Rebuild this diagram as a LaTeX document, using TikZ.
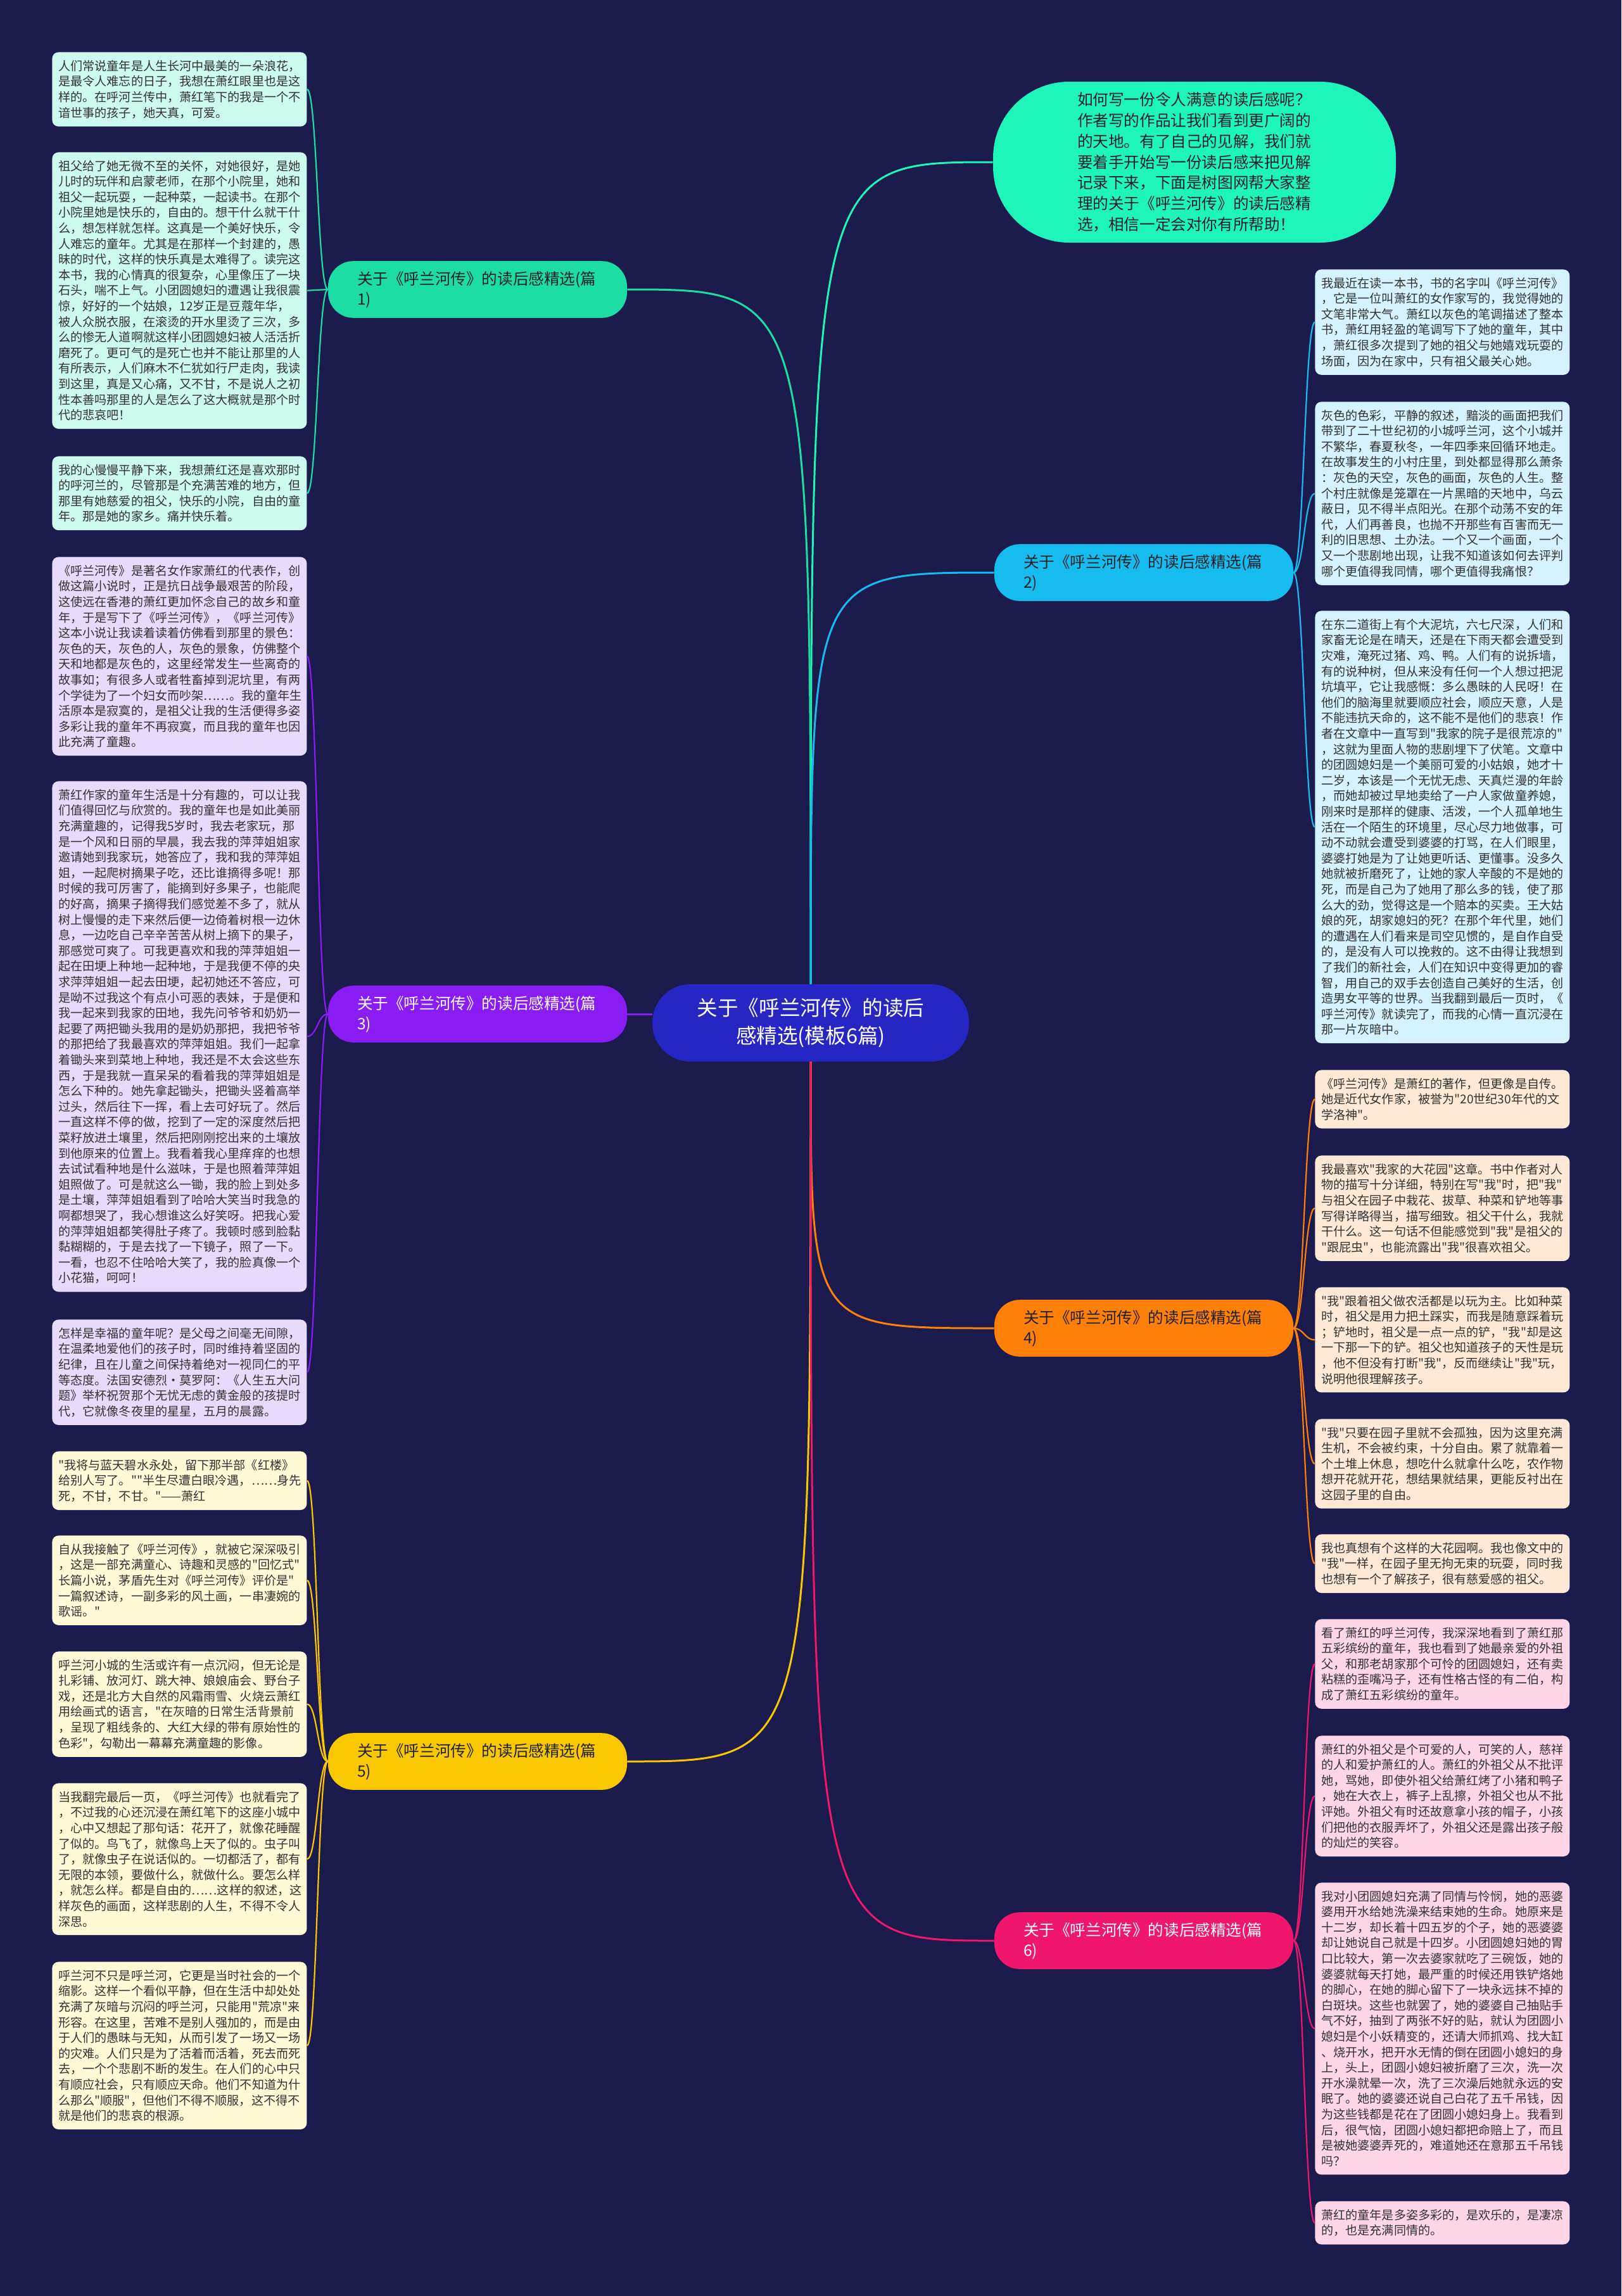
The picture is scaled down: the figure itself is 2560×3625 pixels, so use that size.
\documentclass[tikz,border=0pt]{standalone}
\usepackage{fontspec}
\setmainfont{Noto Sans CJK SC}
\newfontfamily\cjkfont{Noto Sans CJK SC}
\usepackage{tikz}
\definecolor{mmnavy}{RGB}{28,27,78}
\definecolor{mmroot}{RGB}{38,38,196}
\definecolor{mmaqua}{RGB}{30,245,185}
\definecolor{mmteal}{RGB}{28,222,164}
\definecolor{mmsky}{RGB}{22,188,240}
\definecolor{mmpurple}{RGB}{138,28,246}
\definecolor{mmorange}{RGB}{255,128,8}
\definecolor{mmyellow}{RGB}{250,200,0}
\definecolor{mmpink}{RGB}{240,22,110}
\definecolor{mmteal4}{RGB}{204,250,238}
\definecolor{mmsky4}{RGB}{212,242,255}
\definecolor{mmpurple4}{RGB}{232,218,252}
\definecolor{mmorange4}{RGB}{255,233,214}
\definecolor{mmyellow4}{RGB}{255,250,214}
\definecolor{mmpink4}{RGB}{255,214,232}
\definecolor{mmink}{RGB}{50,50,50}
\definecolor{mmdark}{RGB}{30,34,40}

\begin{document}
\begin{tikzpicture}[x=0.5pt,y=-0.5pt,
  rootnode/.style={fill=mmroot,rounded corners=30pt,minimum width=250pt,minimum height=61pt,
    align=center,text=white,font=\cjkfont\fontsize{16.3}{22}\selectfont},
  introbox/.style={fill=mmaqua,rounded corners=60pt,minimum width=318pt,minimum height=127pt,
    text width=185pt,align=left,text=mmdark,font=\cjkfont\fontsize{12.3}{16.4}\selectfont},
  branchnode/.style={rounded corners=20pt,text width=190pt,inner xsep=23pt,inner ysep=8pt,
    align=left,font=\cjkfont\fontsize{12.3}{16}\selectfont},
  leafbox/.style={rounded corners=5pt,anchor=north west,text width=191pt,inner xsep=5pt,
    inner ysep=6.3pt,align=left,text=mmink,font=\cjkfont\fontsize{9.55}{12.3}\selectfont},
  mainedge/.style={line width=1.5pt},
  leafedge/.style={line width=1.1pt}
]
  \useasboundingbox (0,0) rectangle (2560,3625);
  \fill[mmnavy] (0,0) rectangle (2560,3625);
  % Root
  \node[rootnode] (root) at (1280,1615) {关于《呼兰河传》的读后\\感精选(模板6篇)};
  % Intro
  \node[introbox] (intro) at (1886,256) {如何写一份令人满意的读后感呢？\\
作者写的作品让我们看到更广阔的\\
的天地。有了自己的见解，我们就\\
要着手开始写一份读后感来把见解\\
记录下来，下面是树图网帮大家整\\
理的关于《呼兰河传》的读后感精\\
选，相信一定会对你有所帮助！};
  % Branches
  \node[branchnode,fill=mmteal,text=mmdark] (b1) at (754,457) {关于《呼兰河传》的读后感精选(篇\\1)};
  \node[branchnode,fill=mmsky,text=mmdark] (b2) at (1806,904) {关于《呼兰河传》的读后感精选(篇\\2)};
  \node[branchnode,fill=mmpurple,text=white] (b3) at (754,1601) {关于《呼兰河传》的读后感精选(篇\\3)};
  \node[branchnode,fill=mmorange,text=mmdark] (b4) at (1806,2097) {关于《呼兰河传》的读后感精选(篇\\4)};
  \node[branchnode,fill=mmyellow,text=mmdark] (b5) at (754,2781) {关于《呼兰河传》的读后感精选(篇\\5)};
  \node[branchnode,fill=mmpink,text=white] (b6) at (1806,3064) {关于《呼兰河传》的读后感精选(篇\\6)};
  % Leaves - 1
  \node[leafbox,fill=mmteal4] (l1a) at (82,82) {人们常说童年是人生长河中最美的一朵浪花，\\
是最令人难忘的日子，我想在萧红眼里也是这\\
样的。在呼河兰传中，萧红笔下的我是一个不\\
谙世事的孩子，她天真，可爱。};
  \node[leafbox,fill=mmteal4] (l1b) at (82,240) {祖父给了她无微不至的关怀，对她很好，是她\\
儿时的玩伴和启蒙老师，在那个小院里，她和\\
祖父一起玩耍，一起种菜，一起读书。在那个\\
小院里她是快乐的，自由的。想干什么就干什\\
么，想怎样就怎样。这真是一个美好快乐，令\\
人难忘的童年。尤其是在那样一个封建的，愚\\
昧的时代，这样的快乐真是太难得了。读完这\\
本书，我的心情真的很复杂，心里像压了一块\\
石头，喘不上气。小团圆媳妇的遭遇让我很震\\
惊，好好的一个姑娘，12岁正是豆蔻年华，\\
被人众脱衣服，在滚烫的开水里烫了三次，多\\
么的惨无人道啊就这样小团圆媳妇被人活活折\\
磨死了。更可气的是死亡也并不能让那里的人\\
有所表示，人们麻木不仁犹如行尸走肉，我读\\
到这里，真是又心痛，又不甘，不是说人之初\\
性本善吗那里的人是怎么了这大概就是那个时\\
代的悲哀吧！};
  \node[leafbox,fill=mmteal4] (l1c) at (82,720) {我的心慢慢平静下来，我想萧红还是喜欢那时\\
的呼河兰的，尽管那是个充满苦难的地方，但\\
那里有她慈爱的祖父，快乐的小院，自由的童\\
年。那是她的家乡。痛并快乐着。};
  % Leaves - 3
  \node[leafbox,fill=mmpurple4] (l3a) at (82,879) {《呼兰河传》是著名女作家萧红的代表作，创\\
做这篇小说时，正是抗日战争最艰苦的阶段，\\
这使远在香港的萧红更加怀念自己的故乡和童\\
年，于是写下了《呼兰河传》，《呼兰河传》\\
这本小说让我读着读着仿佛看到那里的景色：\\
灰色的天，灰色的人，灰色的景象，仿佛整个\\
天和地都是灰色的，这里经常发生一些离奇的\\
故事如；有很多人或者牲畜掉到泥坑里，有两\\
个学徒为了一个妇女而吵架……。我的童年生\\
活原本是寂寞的，是祖父让我的生活便得多姿\\
多彩让我的童年不再寂寞，而且我的童年也因\\
此充满了童趣。};
  \node[leafbox,fill=mmpurple4] (l3b) at (82,1233) {萧红作家的童年生活是十分有趣的，可以让我\\
们值得回忆与欣赏的。我的童年也是如此美丽\\
充满童趣的，记得我5岁时，我去老家玩，那\\
是一个风和日丽的早晨，我去我的萍萍姐姐家\\
邀请她到我家玩，她答应了，我和我的萍萍姐\\
姐，一起爬树摘果子吃，还比谁摘得多呢！那\\
时候的我可厉害了，能摘到好多果子，也能爬\\
的好高，摘果子摘得我们感觉差不多了，就从\\
树上慢慢的走下来然后便一边倚着树根一边休\\
息，一边吃自己辛辛苦苦从树上摘下的果子，\\
那感觉可爽了。可我更喜欢和我的萍萍姐姐一\\
起在田埂上种地一起种地，于是我便不停的央\\
求萍萍姐姐一起去田埂，起初她还不答应，可\\
是呦不过我这个有点小可恶的表妹，于是便和\\
我一起来到我家的田地，我先问爷爷和奶奶一\\
起要了两把锄头我用的是奶奶那把，我把爷爷\\
的那把给了我最喜欢的萍萍姐姐。我们一起拿\\
着锄头来到菜地上种地，我还是不太会这些东\\
西，于是我就一直呆呆的看着我的萍萍姐姐是\\
怎么下种的。她先拿起锄头，把锄头竖着高举\\
过头，然后往下一挥，看上去可好玩了。然后\\
一直这样不停的做，挖到了一定的深度然后把\\
菜籽放进土壤里，然后把刚刚挖出来的土壤放\\
到他原来的位置上。我看着我心里痒痒的也想\\
去试试看种地是什么滋味，于是也照着萍萍姐\\
姐照做了。可是就这么一锄，我的脸上到处多\\
是土壤，萍萍姐姐看到了哈哈大笑当时我急的\\
啊都想哭了，我心想谁这么好笑呀。把我心爱\\
的萍萍姐姐都笑得肚子疼了。我顿时感到脸黏\\
黏糊糊的，于是去找了一下镜子，照了一下。\\
一看，也忍不住哈哈大笑了，我的脸真像一个\\
小花猫，呵呵！};
  \node[leafbox,fill=mmpurple4] (l3c) at (82,2083) {怎样是幸福的童年呢？是父母之间毫无间隙，\\
在温柔地爱他们的孩子时，同时维持着坚固的\\
纪律，且在儿童之间保持着绝对一视同仁的平\\
等态度。法国安德烈·莫罗阿：《人生五大问\\
题》举杯祝贺那个无忧无虑的黄金般的孩提时\\
代，它就像冬夜里的星星，五月的晨露。};
  % Leaves - 5
  \node[leafbox,fill=mmyellow4] (l5a) at (82,2291) {"我将与蓝天碧水永处，留下那半部《红楼》\\
给别人写了。""半生尽遭白眼冷遇，……身先\\
死，不甘，不甘。"——萧红};
  \node[leafbox,fill=mmyellow4] (l5b) at (82,2424) {自从我接触了《呼兰河传》，就被它深深吸引\\
，这是一部充满童心、诗趣和灵感的"回忆式"\\
长篇小说，茅盾先生对《呼兰河传》评价是"\\
一篇叙述诗，一副多彩的风土画，一串凄婉的\\
歌谣。"};
  \node[leafbox,fill=mmyellow4] (l5c) at (82,2607) {呼兰河小城的生活或许有一点沉闷，但无论是\\
扎彩铺、放河灯、跳大神、娘娘庙会、野台子\\
戏，还是北方大自然的风霜雨雪、火烧云萧红\\
用绘画式的语言，"在灰暗的日常生活背景前\\
，呈现了粗线条的、大红大绿的带有原始性的\\
色彩"，勾勒出一幕幕充满童趣的影像。};
  \node[leafbox,fill=mmyellow4] (l5d) at (82,2815) {当我翻完最后一页，《呼兰河传》也就看完了\\
，不过我的心还沉浸在萧红笔下的这座小城中\\
，心中又想起了那句话：花开了，就像花睡醒\\
了似的。鸟飞了，就像鸟上天了似的。虫子叫\\
了，就像虫子在说话似的。一切都活了，都有\\
无限的本领，要做什么，就做什么。要怎么样\\
，就怎么样。都是自由的……这样的叙述，这\\
样灰色的画面，这样悲剧的人生，不得不令人\\
深思。};
  \node[leafbox,fill=mmyellow4] (l5e) at (82,3097) {呼兰河不只是呼兰河，它更是当时社会的一个\\
缩影。这样一个看似平静，但在生活中却处处\\
充满了灰暗与沉闷的呼兰河，只能用"荒凉"来\\
形容。在这里，苦难不是别人强加的，而是由\\
于人们的愚昧与无知，从而引发了一场又一场\\
的灾难。人们只是为了活着而活着，死去而死\\
去，一个个悲剧不断的发生。在人们的心中只\\
有顺应社会，只有顺应天命。他们不知道为什\\
么那么"顺服"，但他们不得不顺服，这不得不\\
就是他们的悲哀的根源。};
  % Leaves - 2
  \node[leafbox,fill=mmsky4] (r2a) at (2076,425) {我最近在读一本书，书的名字叫《呼兰河传》\\
，它是一位叫萧红的女作家写的，我觉得她的\\
文笔非常大气。萧红以灰色的笔调描述了整本\\
书，萧红用轻盈的笔调写下了她的童年，其中\\
，萧红很多次提到了她的祖父与她嬉戏玩耍的\\
场面，因为在家中，只有祖父最关心她。};
  \node[leafbox,fill=mmsky4] (r2b) at (2076,634) {灰色的色彩，平静的叙述，黯淡的画面把我们\\
带到了二十世纪初的小城呼兰河，这个小城并\\
不繁华，春夏秋冬，一年四季来回循环地走。\\
在故事发生的小村庄里，到处都显得那么萧条\\
：灰色的天空，灰色的画面，灰色的人生。整\\
个村庄就像是笼罩在一片黑暗的天地中，乌云\\
蔽日，见不得半点阳光。在那个动荡不安的年\\
代，人们再善良，也抛不开那些有百害而无一\\
利的旧思想、土办法。一个又一个画面，一个\\
又一个悲剧地出现，让我不知道该如何去评判\\
哪个更值得我同情，哪个更值得我痛恨？};
  \node[leafbox,fill=mmsky4] (r2c) at (2076,964) {在东二道街上有个大泥坑，六七尺深，人们和\\
家畜无论是在晴天，还是在下雨天都会遭受到\\
灾难，淹死过猪、鸡、鸭。人们有的说拆墙，\\
有的说种树，但从来没有任何一个人想过把泥\\
坑填平，它让我感慨：多么愚昧的人民呀！在\\
他们的脑海里就要顺应社会，顺应天意，人是\\
不能违抗天命的，这不能不是他们的悲哀！作\\
者在文章中一直写到"我家的院子是很荒凉的"\\
，这就为里面人物的悲剧埋下了伏笔。文章中\\
的团圆媳妇是一个美丽可爱的小姑娘，她才十\\
二岁，本该是一个无忧无虑、天真烂漫的年龄\\
，而她却被过早地卖给了一户人家做童养媳，\\
刚来时是那样的健康、活泼，一个人孤单地生\\
活在一个陌生的环境里，尽心尽力地做事，可\\
动不动就会遭受到婆婆的打骂，在人们眼里，\\
婆婆打她是为了让她更听话、更懂事。没多久\\
她就被折磨死了，让她的家人辛酸的不是她的\\
死，而是自己为了她用了那么多的钱，使了那\\
么大的劲，觉得这是一个赔本的买卖。王大姑\\
娘的死，胡家媳妇的死？在那个年代里，她们\\
的遭遇在人们看来是司空见惯的，是自作自受\\
的，是没有人可以挽救的。这不由得让我想到\\
了我们的新社会，人们在知识中变得更加的睿\\
智，用自己的双手去创造自己美好的生活，创\\
造男女平等的世界。当我翻到最后一页时，《\\
呼兰河传》就读完了，而我的心情一直沉浸在\\
那一片灰暗中。};
  % Leaves - 4
  \node[leafbox,fill=mmorange4] (r4a) at (2076,1689) {《呼兰河传》是萧红的著作，但更像是自传。\\
她是近代女作家，被誉为"20世纪30年代的文\\
学洛神"。};
  \node[leafbox,fill=mmorange4] (r4b) at (2076,1824) {我最喜欢"我家的大花园"这章。书中作者对人\\
物的描写十分详细，特别在写"我"时，把"我"\\
与祖父在园子中栽花、拔草、种菜和铲地等事\\
写得详略得当，描写细致。祖父干什么，我就\\
干什么。这一句话不但能感觉到"我"是祖父的\\
"跟屁虫"，也能流露出"我"很喜欢祖父。};
  \node[leafbox,fill=mmorange4] (r4c) at (2076,2032) {"我"跟着祖父做农活都是以玩为主。比如种菜\\
时，祖父是用力把土踩实，而我是随意踩着玩\\
；铲地时，祖父是一点一点的铲，"我"却是这\\
一下那一下的铲。祖父也知道孩子的天性是玩\\
，他不但没有打断"我"，反而继续让"我"玩，\\
说明他很理解孩子。};
  \node[leafbox,fill=mmorange4] (r4d) at (2076,2240) {"我"只要在园子里就不会孤独，因为这里充满\\
生机，不会被约束，十分自由。累了就靠着一\\
个土堆上休息，想吃什么就拿什么吃，农作物\\
想开花就开花，想结果就结果，更能反衬出在\\
这园子里的自由。};
  \node[leafbox,fill=mmorange4] (r4e) at (2076,2422) {我也真想有个这样的大花园啊。我也像文中的\\
"我"一样，在园子里无拘无束的玩耍，同时我\\
也想有一个了解孩子，很有慈爱感的祖父。};
  % Leaves - 6
  \node[leafbox,fill=mmpink4] (r6a) at (2076,2556) {看了萧红的呼兰河传，我深深地看到了萧红那\\
五彩缤纷的童年，我也看到了她最亲爱的外祖\\
父，和那老胡家那个可怜的团圆媳妇，还有卖\\
粘糕的歪嘴冯子，还有性格古怪的有二伯，构\\
成了萧红五彩缤纷的童年。};
  \node[leafbox,fill=mmpink4] (r6b) at (2076,2740) {萧红的外祖父是个可爱的人，可笑的人，慈祥\\
的人和爱护萧红的人。萧红的外祖父从不批评\\
她，骂她，即使外祖父给萧红烤了小猪和鸭子\\
，她在大衣上，裤子上乱擦，外祖父也从不批\\
评她。外祖父有时还故意拿小孩的帽子，小孩\\
们把他的衣服弄坏了，外祖父还是露出孩子般\\
的灿烂的笑容。};
  \node[leafbox,fill=mmpink4] (r6c) at (2076,2972) {我对小团圆媳妇充满了同情与怜悯，她的恶婆\\
婆用开水给她洗澡来结束她的生命。她原来是\\
十二岁，却长着十四五岁的个子，她的恶婆婆\\
却让她说自己就是十四岁。小团圆媳妇她的胃\\
口比较大，第一次去婆家就吃了三碗饭，她的\\
婆婆就每天打她，最严重的时候还用铁铲烙她\\
的脚心，在她的脚心留下了一块永远抹不掉的\\
白斑块。这些也就罢了，她的婆婆自己抽贴手\\
气不好，抽到了两张不好的贴，就认为团圆小\\
媳妇是个小妖精变的，还请大师抓鸡、找大缸\\
、烧开水，把开水无情的倒在团圆小媳妇的身\\
上，头上，团圆小媳妇被折磨了三次，洗一次\\
开水澡就晕一次，洗了三次澡后她就永远的安\\
眠了。她的婆婆还说自己白花了五千吊钱，因\\
为这些钱都是花在了团圆小媳妇身上。我看到\\
后，很气恼，团圆小媳妇都把命赔上了，而且\\
是被她婆婆弄死的，难道她还在意那五千吊钱\\
吗？};
  \node[leafbox,fill=mmpink4] (r6d) at (2076,3475) {萧红的童年是多姿多彩的，是欢乐的，是凄凉\\
的，也是充满同情的。};
  % Edges - root
  \draw[mainedge,mmaqua] (root.north) .. controls (root.north |- intro.west) .. (intro.west);
  \draw[mainedge,mmteal] (root.north) .. controls (root.north |- b1.east) .. (b1.east);
  \draw[mainedge,mmsky] (root.north) .. controls (root.north |- b2.west) .. (b2.west);
  \draw[mainedge,mmpurple] (b3.east) -- (root.west |- b3.east);
  \draw[mainedge,mmorange] (root.south) .. controls (root.south |- b4.west) .. (b4.west);
  \draw[mainedge,mmyellow] (root.south) .. controls (root.south |- b5.east) .. (b5.east);
  \draw[mainedge,mmpink] (root.south) .. controls (root.south |- b6.west) .. (b6.west);
  % Edges - left leaves
  \draw[leafedge,mmteal] (b1.west) .. controls +(-16,0) and +(16,0) .. (l1a.east);
  \draw[leafedge,mmteal] (b1.west) .. controls +(-16,0) and +(16,0) .. (l1b.east);
  \draw[leafedge,mmteal] (b1.west) .. controls +(-16,0) and +(16,0) .. (l1c.east);
  \draw[leafedge,mmpurple] (b3.west) .. controls +(-16,0) and +(16,0) .. (l3a.east);
  \draw[leafedge,mmpurple] (b3.west) .. controls +(-16,0) and +(16,0) .. (l3b.east);
  \draw[leafedge,mmpurple] (b3.west) .. controls +(-16,0) and +(16,0) .. (l3c.east);
  \draw[leafedge,mmyellow] (b5.west) .. controls +(-16,0) and +(16,0) .. (l5a.east);
  \draw[leafedge,mmyellow] (b5.west) .. controls +(-16,0) and +(16,0) .. (l5b.east);
  \draw[leafedge,mmyellow] (b5.west) .. controls +(-16,0) and +(16,0) .. (l5c.east);
  \draw[leafedge,mmyellow] (b5.west) .. controls +(-16,0) and +(16,0) .. (l5d.east);
  \draw[leafedge,mmyellow] (b5.west) .. controls +(-16,0) and +(16,0) .. (l5e.east);
  % Edges - right leaves
  \draw[leafedge,mmsky] (b2.east) .. controls +(16,0) and +(-16,0) .. (r2a.west);
  \draw[leafedge,mmsky] (b2.east) .. controls +(16,0) and +(-16,0) .. (r2b.west);
  \draw[leafedge,mmsky] (b2.east) .. controls +(16,0) and +(-16,0) .. (r2c.west);
  \draw[leafedge,mmorange] (b4.east) .. controls +(16,0) and +(-16,0) .. (r4a.west);
  \draw[leafedge,mmorange] (b4.east) .. controls +(16,0) and +(-16,0) .. (r4b.west);
  \draw[leafedge,mmorange] (b4.east) .. controls +(16,0) and +(-16,0) .. (r4c.west);
  \draw[leafedge,mmorange] (b4.east) .. controls +(16,0) and +(-16,0) .. (r4d.west);
  \draw[leafedge,mmorange] (b4.east) .. controls +(16,0) and +(-16,0) .. (r4e.west);
  \draw[leafedge,mmpink] (b6.east) .. controls +(16,0) and +(-16,0) .. (r6a.west);
  \draw[leafedge,mmpink] (b6.east) .. controls +(16,0) and +(-16,0) .. (r6b.west);
  \draw[leafedge,mmpink] (b6.east) .. controls +(16,0) and +(-16,0) .. (r6c.west);
  \draw[leafedge,mmpink] (b6.east) .. controls +(16,0) and +(-16,0) .. (r6d.west);
\end{tikzpicture}
\end{document}
